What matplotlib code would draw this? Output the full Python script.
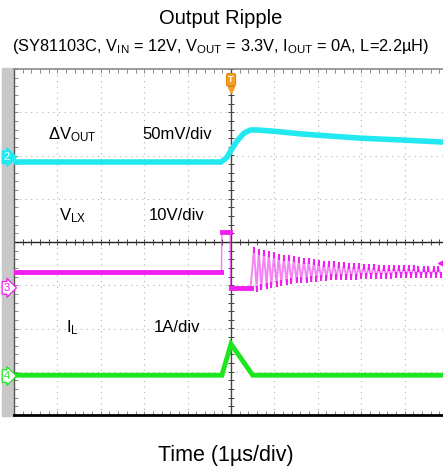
import matplotlib.pyplot as plt
import numpy as np
from matplotlib.ticker import MultipleLocator
from matplotlib.patches import Rectangle

plt.rcParams['font.family'] = ['Liberation Sans', 'DejaVu Sans']
plt.rcParams['mathtext.fontset'] = 'custom'
plt.rcParams['mathtext.rm'] = 'Liberation Sans'
plt.rcParams['mathtext.it'] = 'Liberation Sans'

# Traces, in scope divisions (x: 1 us/div, y: div from centre)
vout_t = [-5.0, -0.23, -0.1, 0.0, 0.15, 0.3, 0.45, 0.6, 1.0, 1.6, 2.0, 3.0, 3.9, 4.9]
vout_v = [1.85, 1.85, 1.95, 2.12, 2.35, 2.52, 2.59, 2.59, 2.56, 2.50, 2.47, 2.40, 2.36, 2.31]

vlx_t = [-5.0, -0.22, -0.21, -0.02, -0.01, 0.45]
vlx_v = [-0.69, -0.69, 0.23, 0.23, -1.06, -1.06]

# ringing of the switch node after the pulse (peaks / troughs)
ring_hi_t = [0.53, 0.64, 0.76, 0.87, 0.99, 1.10, 1.22, 1.33, 1.45, 1.56, 1.68, 1.79, 1.91,
             2.02, 2.14, 2.25, 2.37, 2.48, 2.60, 2.71, 2.83, 2.94, 3.06, 3.17, 3.29, 3.40,
             3.52, 3.63, 3.75, 3.86, 3.98, 4.09, 4.21, 4.32, 4.44, 4.55, 4.67, 4.78]
ring_hi_v = [-0.19, -0.22, -0.26, -0.28, -0.31, -0.34, -0.36, -0.38, -0.40, -0.42, -0.44,
             -0.45, -0.47, -0.48, -0.50, -0.51, -0.52, -0.53, -0.54, -0.55, -0.56, -0.56,
             -0.57, -0.58, -0.58, -0.59, -0.59, -0.60, -0.60, -0.60, -0.61, -0.61, -0.61,
             -0.62, -0.62, -0.62, -0.62, -0.62]
ring_lo_t = [0.59, 0.70, 0.82, 0.93, 1.05, 1.16, 1.28, 1.39, 1.51, 1.62, 1.74, 1.85, 1.97,
             2.08, 2.20, 2.31, 2.43, 2.54, 2.66, 2.77, 2.89, 3.00, 3.12, 3.23, 3.35, 3.46,
             3.58, 3.69, 3.81, 3.92, 4.04, 4.15, 4.27, 4.38, 4.50, 4.61, 4.73, 4.84]
ring_lo_v = [-1.08, -1.05, -1.02, -0.99, -0.97, -0.95, -0.93, -0.91, -0.89, -0.88, -0.87,
             -0.86, -0.85, -0.84, -0.83, -0.82, -0.82, -0.81, -0.81, -0.80, -0.80, -0.79,
             -0.79, -0.79, -0.78, -0.78, -0.78, -0.78, -0.77, -0.77, -0.77, -0.77, -0.77,
             -0.76, -0.76, -0.76, -0.76, -0.76]

il_t = [-5.0, -0.21, 0.0, 0.5, 4.9]
il_v = [-3.08, -3.08, -2.36, -3.08, -3.08]

labels = [r'$\Delta$V$_{\mathrm{OUT}}$', 'V$_{\mathrm{LX}}$', 'I$_{\mathrm{L}}$']
scales = ['50mV/div', '10V/div', '1A/div']
label_y = [2.49, 0.62, -1.97]

cyan = '#22e8f0'
magenta = '#f01ef0'
green = '#1ee61e'

fig = plt.figure(figsize=(4.43, 4.70), dpi=100)
W, H = 443, 470
ax = fig.add_axes([14 / W, (H - 415) / H, (W - 14) / W, (415 - 69) / H])
ax.set_xlim(-5, 212 / 43.4)
ax.set_ylim(-4, 4)

# grey strip at the left of the screen
fig.patches.append(Rectangle((2 / W, (H - 416) / H), 12 / W, 348 / H,
                             transform=fig.transFigure, color='#c8c8c8', zorder=-1))

# graticule
for gx in range(-4, 5):
    if gx != 0:
        ax.axvline(gx, color='#b0b0b0', lw=0.8, ls=(0, (1, 4)), zorder=1)
for gy in range(-3, 4):
    if gy != 0:
        ax.axhline(gy, color='#b0b0b0', lw=0.8, ls=(0, (1, 4)), zorder=1)
ax.axhline(0, color='#222222', lw=1.0, zorder=2)
ax.axvline(0, color='#444444', lw=1.0, zorder=2)
tk = np.arange(-5, 5, 0.2)
ax.plot(tk, np.zeros_like(tk), ls='none', marker='|', ms=5, mew=0.7, color='#444444', zorder=2)
tk = np.arange(-4, 4.01, 0.2)
ax.plot(np.zeros_like(tk), tk, ls='none', marker='_', ms=5, mew=0.7, color='#444444', zorder=2)

ax.xaxis.set_minor_locator(MultipleLocator(0.2))
ax.yaxis.set_minor_locator(MultipleLocator(0.2))
ax.set_xticks([])
ax.set_yticks([])
ax.tick_params(which='minor', direction='in', length=3, width=0.6, color='#777777',
               top=True, bottom=True, left=True, right=False,
               labelbottom=False, labelleft=False)
ax.spines['right'].set_visible(False)
ax.spines['top'].set_color('#8a8a8a')
ax.spines['top'].set_linewidth(1.2)
ax.spines['left'].set_color('#555555')
ax.spines['left'].set_linewidth(1.0)
ax.spines['bottom'].set_color('black')
ax.spines['bottom'].set_linewidth(2.0)

# traces
ax.plot(vout_t, vout_v, color=cyan, lw=4, solid_joinstyle='round', zorder=5)
ax.plot(vlx_t[:2], vlx_v[:2], color=magenta, lw=3.5, zorder=5)
ax.plot(vlx_t[1:5], vlx_v[1:5], color=magenta, lw=1.0, alpha=0.6, zorder=5)
ax.plot(vlx_t[2:4], vlx_v[2:4], color=magenta, lw=3.5, zorder=5)
ax.plot(vlx_t[4:], vlx_v[4:], color=magenta, lw=3.5, zorder=5)
ring_t = [0.45] + [v for pair in zip(ring_hi_t, ring_lo_t) for v in pair]
ring_v = [-1.06] + [v for pair in zip(ring_hi_v, ring_lo_v) for v in pair]
ax.plot(ring_t, ring_v, color=magenta, lw=1.4, alpha=0.55, zorder=5)
ax.plot(ring_hi_t, ring_hi_v, ls='none', marker='|', ms=4, mew=1.5, color=magenta, zorder=5)
ax.plot(ring_lo_t, ring_lo_v, ls='none', marker='|', ms=4, mew=1.5, color=magenta, zorder=5)
ax.plot(il_t, il_v, color=green, lw=3.5, solid_joinstyle='miter', zorder=5)

# labels inside the screen
for lab, sc, y in zip(labels, scales, label_y):
    ax.text(-3.65, y, lab, fontsize=12, ha='center', va='center', zorder=6)
    ax.text(-1.25, y, sc, fontsize=12, ha='center', va='center', zorder=6)

# channel markers on the left
for num, y, col, filled in [('2', 1.96, cyan, True), ('3', -1.06, magenta, False),
                            ('4', -3.1, green, False)]:
    ax.text(-5.17, y, num, fontsize=8, ha='center', va='center',
            color='white' if filled else col, clip_on=False, zorder=7,
            bbox=dict(boxstyle='rarrow,pad=0.12', fc=col if filled else 'white',
                      ec=col, lw=0.9))

# trigger marker
ax.text(0, 3.75, 'T', fontsize=6.5, ha='center', va='center', color='white',
        fontweight='bold', clip_on=False, zorder=7,
        bbox=dict(boxstyle='round,pad=0.2', fc='#f5a020', ec='#e08a10', lw=0.8))
ax.plot([0], [3.52], marker='v', ms=4, color='#f5a020', clip_on=False, zorder=7)
ax.plot([4.84], [-0.49], marker='<', ms=5, color=magenta, clip_on=False, zorder=7)

fig.text(221 / W, 1 - 19 / H, 'Output Ripple', fontsize=14.5, ha='center', va='center')
fig.text(221 / W, 1 - 47 / H,
         '(SY81103C, V$_{\\mathrm{IN}}$ = 12V, V$_{\\mathrm{OUT}}$ = 3.3V, '
         'I$_{\\mathrm{OUT}}$ = 0A, L=2.2\u00b5H)', fontsize=11.8, ha='center', va='center')
fig.text(226 / W, 1 - 456 / H, 'Time (1\u00b5s/div)', fontsize=15.5, ha='center', va='center')

fig.savefig('out.png', dpi=100)
